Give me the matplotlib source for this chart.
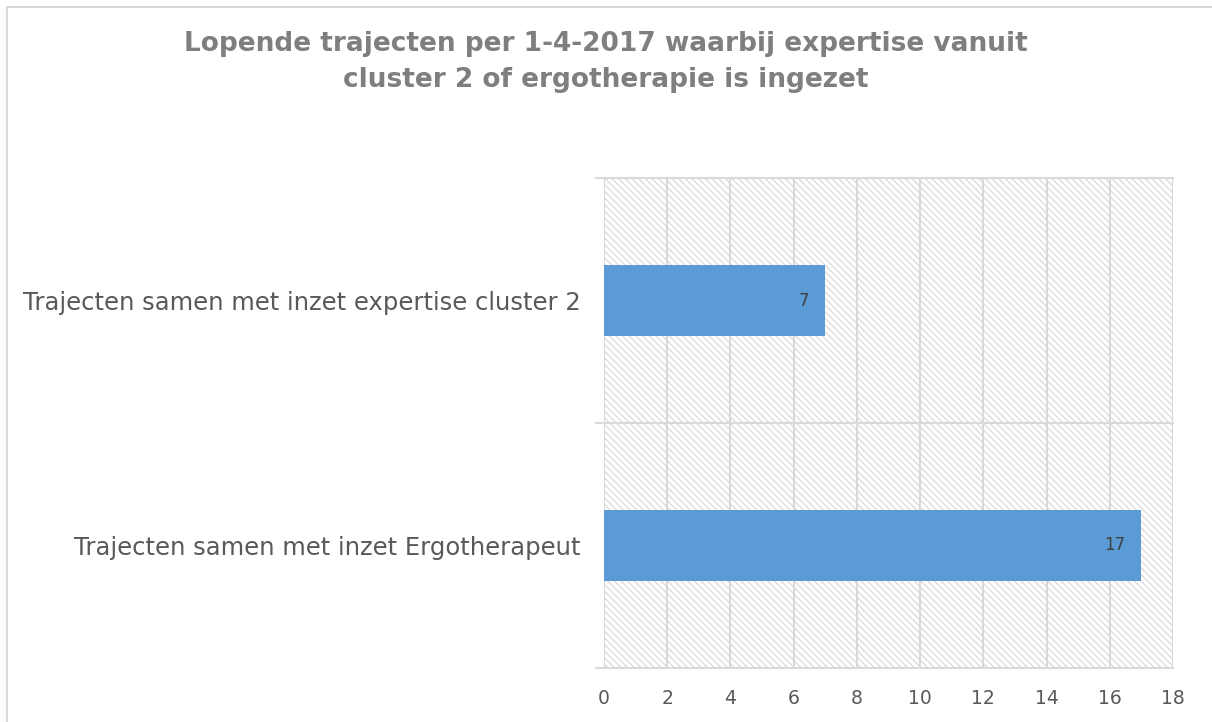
import matplotlib.pyplot as plt
from matplotlib.patches import Rectangle

categories = ['Trajecten samen met inzet Ergotherapeut',
              'Trajecten samen met inzet expertise cluster 2']
values = [17, 7]
x_ticks = list(range(0, 19, 2))
title = 'Lopende trajecten per 1-4-2017 waarbij expertise vanuit\ncluster 2 of ergotherapie is ingezet'

plt.rcParams['hatch.linewidth'] = 1.0
plt.rcParams['hatch.color'] = '#dcdcdc'

fig = plt.figure(figsize=(12.12, 7.22), dpi=100)
# outer chart border (cut off at right/bottom)
fig.patches.append(Rectangle((6.5 / 1212, -0.1), 1.2, (722 - 7) / 722 + 0.1,
                             transform=fig.transFigure, fill=False,
                             edgecolor='#d9d9d9', linewidth=1.5))

ax = fig.add_axes([604 / 1212, 1 - 668 / 722, (1173 - 604) / 1212, (668 - 178) / 722])

# hatched plot area background
ax.add_patch(Rectangle((0, 0), 1, 1, transform=ax.transAxes, facecolor='white',
                       hatch='\\\\\\\\\\', edgecolor='#dcdcdc', linewidth=0, zorder=0))

y = list(range(len(categories)))
bars = ax.barh(y, values, height=0.29, color='#5b9bd5', zorder=3)
for b, v in zip(bars, values):
    ax.text(b.get_width() - 0.5, b.get_y() + b.get_height() / 2, str(v),
            ha='right', va='center', fontsize=12, color='#404040', zorder=4)

ax.set_xlim(0, 18)
ax.set_ylim(-0.5, 1.5)
ax.set_xticks(x_ticks)
ax.set_xticklabels([str(t) for t in x_ticks], fontsize=13.5, color='#595959')
ax.set_yticks(y)
ax.set_yticklabels(categories, fontsize=17.5, color='#595959')
ax.tick_params(axis='y', length=0, pad=17)
ax.tick_params(axis='x', length=0, pad=15)

# gridlines: vertical at each tick, horizontal at category boundaries
for t in x_ticks:
    ax.axvline(t, color='#d9d9d9', linewidth=1.5, zorder=1)
for yb in [-0.5, 0.5, 1.5]:
    ax.plot([-0.25, 18], [yb, yb], color='#d9d9d9', linewidth=1.5, zorder=1,
            clip_on=False)

for s in ax.spines.values():
    s.set_visible(False)

fig.text(606 / 1212, 1 - 62 / 722, title, ha='center', va='center',
         fontsize=19, fontweight='bold', color='#7f7f7f', linespacing=1.5)

fig.savefig('out.png', dpi=100)
